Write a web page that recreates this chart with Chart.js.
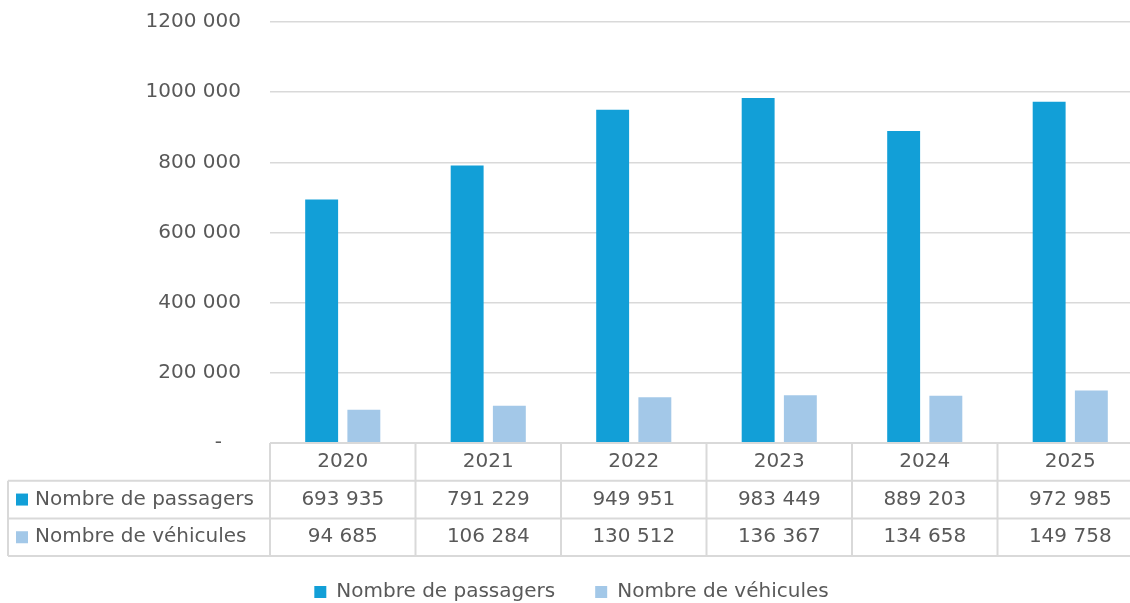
<!DOCTYPE html>
<html>
<head>
<meta charset="utf-8">
<script src="https://cdn.jsdelivr.net/npm/chart.js@4"></script>
<style>
  body { margin: 0; background: #fff; overflow: hidden; }
  #wrap { width: 1143px; height: 612px; position: relative; }
</style>
</head>
<body>
<div id="wrap"><canvas id="chart"></canvas></div>
<script>
// Data
const years = ['2020', '2021', '2022', '2023', '2024', '2025'];
const passagers = [693935, 791229, 949951, 983449, 889203, 972985];
const vehicules = [94685, 106284, 130512, 136367, 134658, 149758];
const seriesNames = ['Nombre de passagers', 'Nombre de véhicules'];
const seriesColors = ['#129FD7', '#A3C8E8'];
const yMax = 1200000;
const yStep = 200000;

const FONT = '"DejaVu Sans", "Open Sans", sans-serif';
const TEXT = '#595959';
const LINE = '#D9D9D9';

// french style number: 1200 000, 693 935
function fmt(v) {
    if (v === 0) return '-   ';
    const th = Math.floor(v / 1000);
    const rest = String(v % 1000).padStart(3, '0');
    return th > 0 ? th + ' ' + rest : String(v % 1000);
}

// data table under the plot, positioned from the x scale
const dataTable = {
    id: 'dataTable',
    afterDraw(chart) {
        const ctx = chart.ctx;
        const x = chart.scales.x;
        const area = chart.chartArea;
        const colW = x.width / years.length;
        const rowH = 37.7;
        const top = area.bottom;
        const leftX = 8;
        const right = x.right;
        const rows = [passagers, vehicules];

        ctx.save();
        ctx.strokeStyle = LINE;
        ctx.lineWidth = 2;
        ctx.beginPath();
        ctx.moveTo(x.left, top); ctx.lineTo(right, top);
        for (let r = 1; r <= 3; r++) {
            ctx.moveTo(leftX, top + r * rowH); ctx.lineTo(right, top + r * rowH);
        }
        for (let i = 0; i <= years.length; i++) {
            const px = x.left + i * colW;
            ctx.moveTo(px, top); ctx.lineTo(px, top + 3 * rowH);
        }
        ctx.moveTo(leftX, top + rowH); ctx.lineTo(leftX, top + 3 * rowH);
        ctx.stroke();

        ctx.fillStyle = TEXT;
        ctx.font = '20px ' + FONT;
        ctx.textBaseline = 'middle';
        ctx.textAlign = 'center';
        years.forEach((y, i) => {
            const cx = x.getPixelForTick(i);
            ctx.fillText(y, cx, top + rowH * 0.5);
            rows.forEach((vals, r) => {
                ctx.fillText(fmt(vals[i]), cx, top + rowH * (r + 1.5));
            });
        });
        ctx.textAlign = 'left';
        seriesNames.forEach((name, r) => {
            const cy = top + rowH * (r + 1.5);
            ctx.fillStyle = seriesColors[r];
            ctx.fillRect(16, cy - 6, 12, 12);
            ctx.fillStyle = TEXT;
            ctx.fillText(name, 35, cy);
        });
        ctx.restore();
    }
};

new Chart(document.getElementById('chart'), {
    type: 'bar',
    data: {
        labels: years,
        datasets: [
            { label: seriesNames[0], data: passagers, backgroundColor: seriesColors[0], borderWidth: 0,
              categoryPercentage: 0.58, barPercentage: 0.78 },
            { label: seriesNames[1], data: vehicules, backgroundColor: seriesColors[1], borderWidth: 0,
              categoryPercentage: 0.58, barPercentage: 0.78 }
        ]
    },
    options: {
        responsive: true,
        maintainAspectRatio: false,
        animation: false,
        layout: { padding: { top: 22, left: 0, right: 0, bottom: 0 } },
        plugins: {
            tooltip: { enabled: false },
            legend: {
                position: 'bottom',
                labels: {
                    color: TEXT,
                    font: { family: FONT, size: 20 },
                    boxWidth: 12, boxHeight: 12,
                    padding: 40
                }
            }
        },
        scales: {
            x: {
                grid: { display: false },
                border: { display: false },
                ticks: { display: false },
                afterFit(s) { s.height = 99; }
            },
            y: {
                min: 0, max: yMax,
                // invisible tick marks give the gap between labels and plot
                grid: { color: LINE, lineWidth: 1.5, drawTicks: true, tickLength: 29, tickColor: 'rgba(0,0,0,0)' },
                border: { display: false },
                ticks: {
                    stepSize: yStep,
                    padding: 0,
                    color: TEXT,
                    font: { family: FONT, size: 20 },
                    callback: v => fmt(v)
                },
                afterFit(s) { s.width = 270; }
            }
        }
    },
    plugins: [dataTable]
});
</script>
</body>
</html>
